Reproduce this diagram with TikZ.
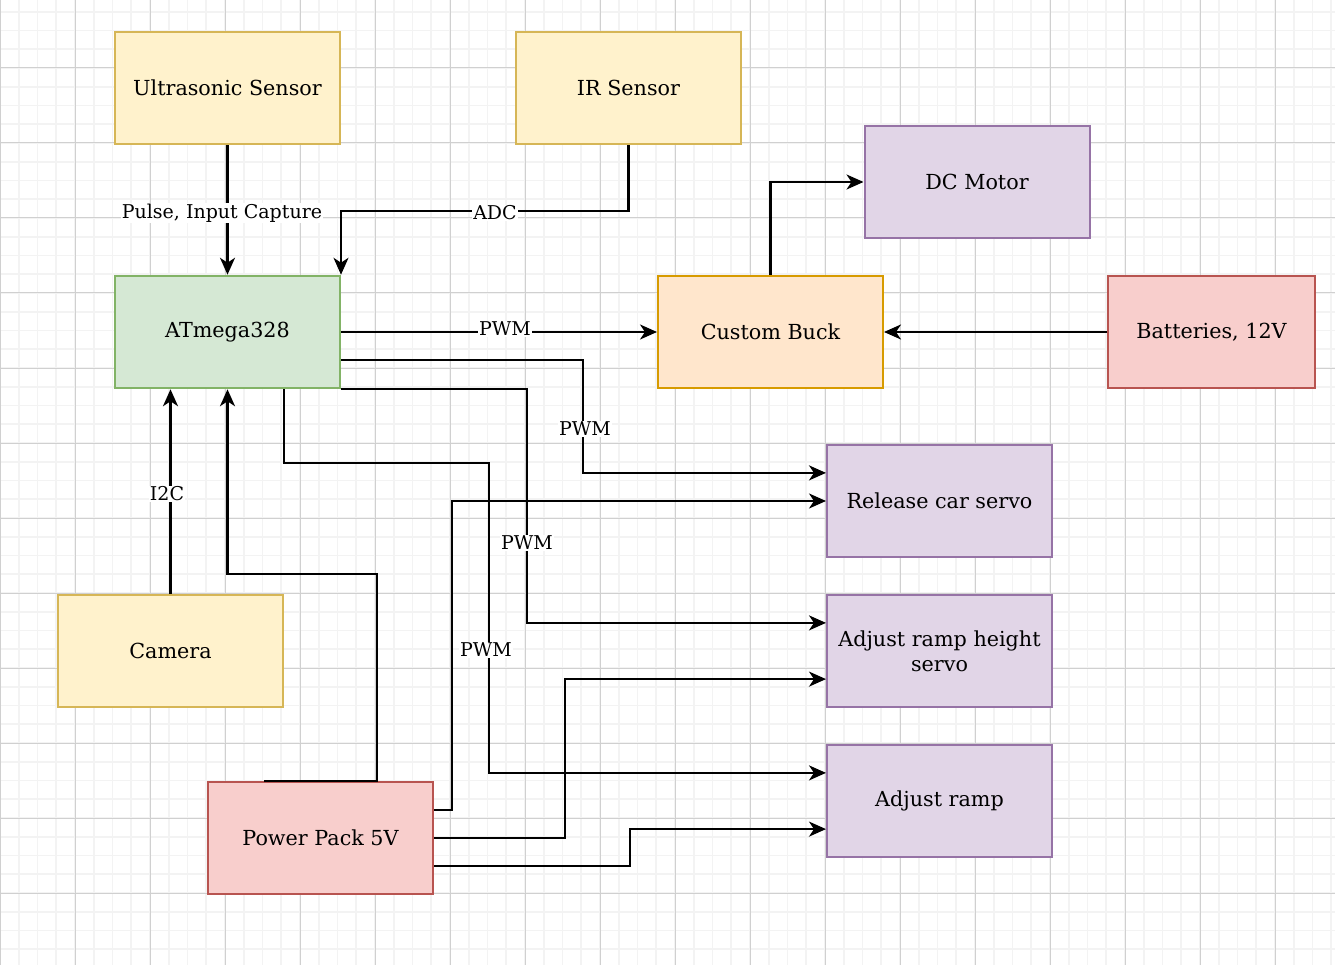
\documentclass[tikz,border=0pt]{standalone}
\usepackage{fontspec}
\setmainfont{DejaVu Serif}
\usetikzlibrary{arrows.meta}
\definecolor{ylwF}{HTML}{FFF2CC}\definecolor{ylwD}{HTML}{D6B656}
\definecolor{grnF}{HTML}{D5E8D4}\definecolor{grnD}{HTML}{82B366}
\definecolor{orgF}{HTML}{FFE6CC}\definecolor{orgD}{HTML}{D79B00}
\definecolor{purF}{HTML}{E1D5E7}\definecolor{purD}{HTML}{9673A6}
\definecolor{redF}{HTML}{F8CECC}\definecolor{redD}{HTML}{B85450}
\definecolor{gridMinor}{HTML}{F3F3F3}\definecolor{gridMajor}{HTML}{D0D0D0}
\tikzset{
  box/.style={rectangle, minimum width=225pt, minimum height=112.5pt, line width=2pt, align=center, inner sep=2pt, font=\fontsize{20.7}{25}\selectfont},
  yel/.style={box, fill=ylwF, draw=ylwD},
  grn/.style={box, fill=grnF, draw=grnD},
  org/.style={box, fill=orgF, draw=orgD},
  pur/.style={box, fill=purF, draw=purD},
  red/.style={box, fill=redF, draw=redD},
  conn/.style={line width=2.3pt, draw=black, -{Stealth[length=17pt, width=15pt, inset=5pt]}},
  lbl/.style={fill=white, inner sep=1pt, font=\fontsize{19}{23}\selectfont},
  minorline/.style={draw=gridMinor, line width=1.6pt},
  majorline/.style={draw=gridMajor, line width=1pt}
}
\begin{document}
\begin{tikzpicture}[x=1pt,y=-1pt]
\useasboundingbox (0,0) rectangle (1335,965);
\fill[white] (0,0) rectangle (1335,965);
\foreach \k in {0,...,71} \draw[minorline] (\k*18.75,0) -- (\k*18.75,965);
\foreach \k in {0,...,52} \draw[minorline] (0,-7+\k*18.75) -- (1335,-7+\k*18.75);
\foreach \k in {0,...,17} \draw[majorline] (\k*75,0) -- (\k*75,965);
\foreach \k in {0,...,12} \draw[majorline] (0,68+\k*75) -- (1335,68+\k*75);

\node[yel] (us) at (227.5,88) {Ultrasonic Sensor};
\node[yel] (ir) at (628.5,88) {IR Sensor};
\node[grn] (atm) at (227.5,332) {ATmega328};
\node[org] (buck) at (770.5,332) {Custom Buck};
\node[pur] (dc) at (977,182) {DC Motor};
\node[red, minimum width=206.25pt] (bat) at (1211.5,332) {Batteries, 12V};
\node[pur] (rel) at (939.5,501) {Release car servo};
\node[pur] (arh) at (939.5,651) {Adjust ramp height\\servo};
\node[pur] (ar) at (939.5,801) {Adjust ramp};
\node[yel] (cam) at (170.5,651) {Camera};
\node[red] (pp) at (320.5,838) {Power Pack 5V};

\draw[conn] (us.south) -- (atm.north);
\node[lbl] (l1) at (222,213) {Pulse, Input Capture};
\draw[conn] (ir.south) -- ++(0,66) -| (atm.north east);
\node[lbl] (l2) at (495,213) {ADC};
\draw[conn] (atm.east) -- (buck.west);
\node[lbl] (l3) at (505,329) {PWM};
\draw[conn] ([yshift=-28.1pt]atm.east) -| (583,430) |- ([yshift=28.1pt]rel.west);
\node[lbl] (l4) at (585,429) {PWM};
\draw[conn] (atm.south east) -| (527,543) |- ([yshift=28.1pt]arh.west);
\node[lbl] (l5) at (527,543) {PWM};
\draw[conn] ([xshift=56.25pt]atm.south) |- (489,463) -- (489,650) |- ([yshift=28.1pt]ar.west);
\node[lbl] (l6) at (486,650) {PWM};
\draw[conn] (buck.north) |- (dc.west);
\draw[conn] (bat.west) -- (buck.east);
\draw[conn] (cam.north) -- (cam.north |- atm.south);
\node[lbl] (l7) at (167,494) {I2C};
\draw[conn] ([xshift=-56.25pt]pp.north) -- ([xshift=56.25pt]pp.north) -- ++(0,-207) -| (atm.south);
\draw[conn] ([yshift=28.1pt]pp.east) -| (452,600) |- (rel.west);
\draw[conn] (pp.east) -| (565,750) |- ([yshift=-28.1pt]arh.west);
\draw[conn] ([yshift=-28.1pt]pp.east) -| (630,850) |- ([yshift=-28.1pt]ar.west);
\end{tikzpicture}
\end{document}
